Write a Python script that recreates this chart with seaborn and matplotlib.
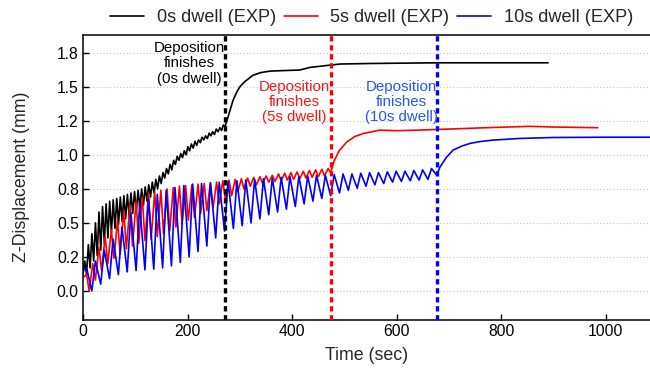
import numpy as np
import pandas as pd
import matplotlib
matplotlib.use("Agg")
import matplotlib.pyplot as plt
from matplotlib.ticker import FormatStrFormatter, MultipleLocator
import seaborn as sns

# ---- experiment description -------------------------------------------------
series_names = ["0s dwell (EXP)", "5s dwell (EXP)", "10s dwell (EXP)"]
line_colors = ["#000000", "#ff0000", "#0000ff"]
text_colors = ["#000000", "#ff1414", "#2a55f0"]
n_layers = 40
deposit_end = [272, 474, 677]          # time at which the last layer is laid (s)
rise_time = [3.4, 6.8, 6.8]            # time to the peak inside each layer cycle (s)

# ---- measured Z displacement (mm) -------------------------------------------
# 0 s dwell
start_0s = 0.12
peaks_0s = [0.22, 0.34, 0.42, 0.50, 0.58, 0.62, 0.64, 0.66, 0.67, 0.68,
            0.69, 0.70, 0.71, 0.72, 0.73, 0.74, 0.75, 0.765, 0.78, 0.80,
            0.82, 0.845, 0.87, 0.90, 0.93, 0.96, 0.99, 1.01, 1.03, 1.06,
            1.08, 1.10, 1.11, 1.13, 1.14, 1.16, 1.17, 1.19, 1.20, 1.22]
troughs_0s = [0.12, 0.17, 0.22, 0.26, 0.30, 0.35, 0.39, 0.43, 0.46, 0.49,
              0.51, 0.53, 0.55, 0.57, 0.59, 0.61, 0.63, 0.66, 0.69, 0.72,
              0.75, 0.79, 0.83, 0.86, 0.89, 0.93, 0.96, 0.98, 1.00, 1.03,
              1.05, 1.07, 1.09, 1.11, 1.12, 1.14, 1.15, 1.17, 1.18, 1.21]
cool_t_0s = [276, 280, 287, 294, 300, 310, 325, 340, 358, 385, 415, 434,
             455, 473, 492, 550, 677, 800, 890]
cool_z_0s = [1.26, 1.31, 1.40, 1.46, 1.50, 1.54, 1.585, 1.605, 1.616, 1.62,
             1.624, 1.643, 1.652, 1.66, 1.668, 1.672, 1.677, 1.677, 1.677]

# 5 s dwell
start_5s = 0.10
peaks_5s = [0.12, 0.20, 0.32, 0.40, 0.45, 0.52, 0.59, 0.63, 0.66, 0.69,
            0.72, 0.73, 0.74, 0.75, 0.76, 0.77, 0.775, 0.78, 0.785, 0.79,
            0.795, 0.80, 0.81, 0.815, 0.82, 0.825, 0.83, 0.835, 0.84, 0.845,
            0.85, 0.86, 0.865, 0.87, 0.875, 0.88, 0.885, 0.89, 0.895, 0.90]
troughs_5s = [0.00, 0.08, 0.15, 0.20, 0.24, 0.27, 0.31, 0.33, 0.35, 0.37,
              0.38, 0.40, 0.42, 0.44, 0.47, 0.49, 0.52, 0.54, 0.57, 0.59,
              0.61, 0.64, 0.67, 0.70, 0.73, 0.75, 0.77, 0.78, 0.79, 0.80,
              0.805, 0.81, 0.815, 0.82, 0.825, 0.83, 0.835, 0.84, 0.845, 0.87]
cool_t_5s = [480, 490, 505, 520, 537, 568, 600, 640, 700, 772, 855, 900, 985]
cool_z_5s = [0.95, 1.03, 1.096, 1.135, 1.158, 1.182, 1.178, 1.182, 1.19,
             1.20, 1.21, 1.205, 1.20]

# 10 s dwell
start_10s = 0.15
peaks_10s = [0.17, 0.22, 0.30, 0.38, 0.47, 0.58, 0.64, 0.68, 0.71, 0.74,
             0.76, 0.775, 0.785, 0.79, 0.795, 0.80, 0.805, 0.81, 0.815, 0.82,
             0.825, 0.83, 0.835, 0.84, 0.84, 0.845, 0.85, 0.85, 0.855, 0.86,
             0.86, 0.865, 0.87, 0.87, 0.875, 0.88, 0.88, 0.885, 0.89, 0.90]
troughs_10s = [0.00, 0.05, 0.09, 0.12, 0.14, 0.15, 0.155, 0.16, 0.17, 0.185,
               0.21, 0.25, 0.29, 0.33, 0.39, 0.44, 0.46, 0.48, 0.50, 0.53,
               0.56, 0.58, 0.60, 0.62, 0.64, 0.66, 0.68, 0.70, 0.72, 0.74,
               0.755, 0.77, 0.78, 0.79, 0.80, 0.805, 0.81, 0.815, 0.82, 0.85]
cool_t_10s = [683, 695, 708, 725, 741, 760, 785, 836, 900, 1000, 1090]
cool_z_10s = [0.91, 0.98, 1.035, 1.065, 1.085, 1.098, 1.109, 1.121, 1.128,
              1.13, 1.13]

annot_text = ["Deposition\nfinishes\n(0s dwell)",
              "Deposition\nfinishes\n(5s dwell)",
              "Deposition\nfinishes\n(10s dwell)"]
annot_x = [203, 405, 609]
annot_y = [1.673, 1.39, 1.39]

# ---- assemble a long-form table ---------------------------------------------
starts = [start_0s, start_5s, start_10s]
peaks = [peaks_0s, peaks_5s, peaks_10s]
troughs = [troughs_0s, troughs_5s, troughs_10s]
cool_t = [cool_t_0s, cool_t_5s, cool_t_10s]
cool_z = [cool_z_0s, cool_z_5s, cool_z_10s]

frames = []
for i, name in enumerate(series_names):
    cycle = deposit_end[i] / n_layers
    t = [0.0]
    z = [starts[i]]
    for k in range(n_layers):
        t += [k * cycle + rise_time[i], (k + 1) * cycle]
        z += [peaks[i][k], troughs[i][k]]
    t += cool_t[i]
    z += cool_z[i]
    frames.append(pd.DataFrame({"Time (sec)": t, "Z-Displacement (mm)": z,
                                "series": name, "order": np.arange(len(t))}))
df = pd.concat(frames, ignore_index=True)

# ---- figure -----------------------------------------------------------------
sns.set_theme(style="ticks")
plt.rcParams["font.family"] = ["Liberation Sans", "DejaVu Sans"]

fig = plt.figure(figsize=(6.5, 3.69), dpi=100)
ax = fig.add_axes([0.1277, 0.1341, 0.8723, 0.7724])

ax.yaxis.set_major_locator(MultipleLocator(0.25))
ax.yaxis.set_major_formatter(FormatStrFormatter("%.1f"))
ax.xaxis.set_major_locator(MultipleLocator(200))
ax.set_xlim(0, 1085)
ax.set_ylim(-0.21, 1.885)
ax.grid(axis="y", color="#c4c4c4", linestyle=(0, (1, 2)), linewidth=0.8)
ax.set_axisbelow(True)

sns.lineplot(data=df, x="Time (sec)", y="Z-Displacement (mm)", hue="series",
             hue_order=series_names, palette=dict(zip(series_names, line_colors)),
             sort=False, estimator=None, units="series", linewidth=1.2, ax=ax)

for i in range(3):
    ax.axvline(deposit_end[i], color=line_colors[i], linewidth=2.4,
               linestyle=(0, (1.6, 1.1)), zorder=3)
    ax.text(annot_x[i], annot_y[i], annot_text[i], color=text_colors[i],
            fontsize=10.8, ha="center", va="center", linespacing=1.12, zorder=4)

handles, labels = ax.get_legend_handles_labels()
ax.legend(handles, labels, loc="lower center", bbox_to_anchor=(0.509, 1.0),
          ncol=3, frameon=False, fontsize=13.1, handlelength=1.85,
          handletextpad=0.7, columnspacing=0.45, borderaxespad=0.05)

ax.set_xlabel("Time (sec)", fontsize=12.8, labelpad=6)
ax.set_ylabel("Z-Displacement (mm)", fontsize=12.8, labelpad=19)
ax.tick_params(direction="in", length=4, width=1.0, labelsize=11.3,
               colors="#000000", pad=3)
ax.tick_params(axis="y", right=False)
for side in ["left", "bottom", "top"]:
    ax.spines[side].set_color("#000000")
    ax.spines[side].set_linewidth(1.1)
ax.spines["right"].set_visible(False)

fig.savefig("out.png", dpi=100)
